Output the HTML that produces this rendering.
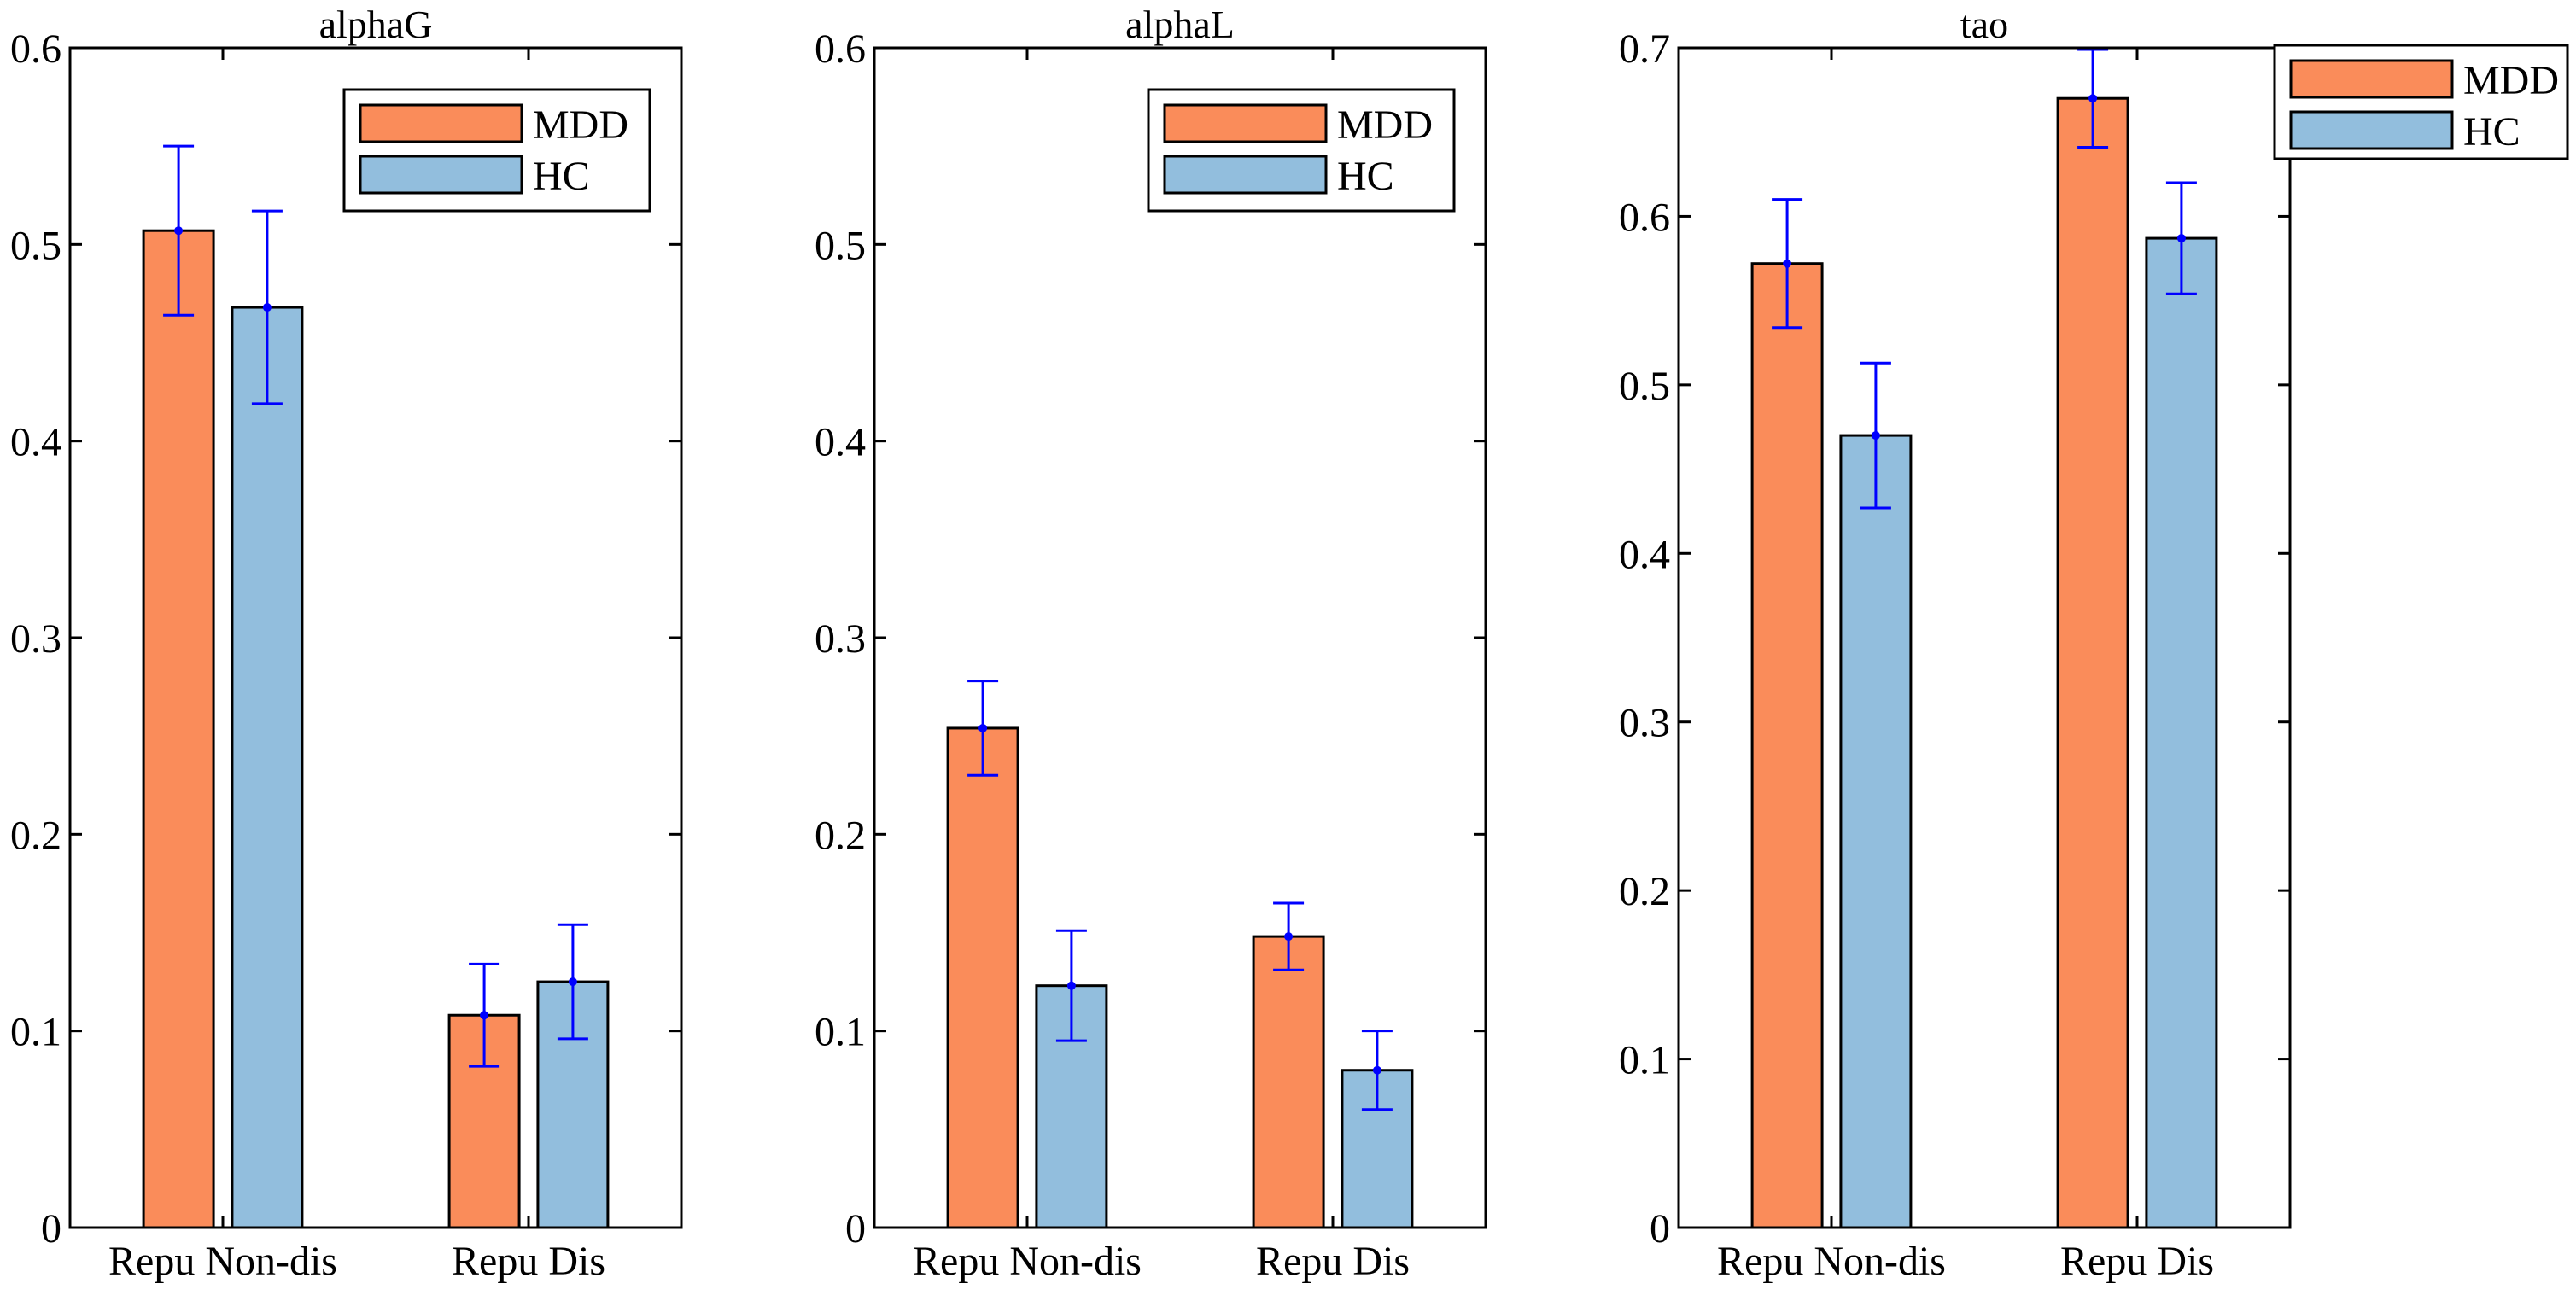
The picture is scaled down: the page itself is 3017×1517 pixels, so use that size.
<!DOCTYPE html>
<html><head><meta charset="utf-8"><style>
html,body{margin:0;padding:0;background:#fff}
svg{display:block}
text{font-family:"Liberation Serif",serif;fill:#000}
</style></head><body>
<svg id="fig" width="3017" height="1517" viewBox="0 0 3017 1517" xmlns="http://www.w3.org/2000/svg"></svg>
<script>
const categories = ["Repu Non-dis", "Repu Dis"];
const panelTitles = ["alphaG", "alphaL", "tao"];
const yMaxes = [0.6, 0.6, 0.7];
const mddValues = [[0.507, 0.108], [0.254, 0.148], [0.572, 0.670]];
const mddErr = [[0.043, 0.026], [0.024, 0.017], [0.038, 0.029]];
const hcValues = [[0.468, 0.125], [0.123, 0.080], [0.470, 0.587]];
const hcErr = [[0.049, 0.029], [0.028, 0.020], [0.043, 0.033]];
const yTicks = [[0,0.1,0.2,0.3,0.4,0.5,0.6],[0,0.1,0.2,0.3,0.4,0.5,0.6],[0,0.1,0.2,0.3,0.4,0.5,0.6,0.7]];
const yTickLabels = [["0","0.1","0.2","0.3","0.4","0.5","0.6"],["0","0.1","0.2","0.3","0.4","0.5","0.6"],["0","0.1","0.2","0.3","0.4","0.5","0.6","0.7"]];
const seriesNames = ["MDD", "HC"];

const NS = "http://www.w3.org/2000/svg";
const svg = document.getElementById("fig");
const ORANGE = "#fa8c5a", BLUE = "#92bedd";
const panelsL = [82, 1024, 1966], panelW = 716, TOP = 56, BOT = 1438;
function mk(tag, attrs, parent) {
  const e = document.createElementNS(NS, tag);
  for (const k in attrs) e.setAttribute(k, attrs[k]);
  (parent || svg).appendChild(e);
  return e;
}
for (let p = 0; p < 3; p++) {
  const L = panelsL[p], R = L + panelW;
  const g = mk("g", {});
  
  
  const xs = v => L + (v - 0.5) / 2 * panelW;
  const ys = v => BOT - v / yMaxes[p] * (BOT - TOP);
  const bw = 0.229, off = 0.145;
  for (let c = 0; c < categories.length; c++) {
    [[mddValues, mddErr, ORANGE, -off, 'mdd'], [hcValues, hcErr, BLUE, off, 'hc']].forEach(s => {
      const v = s[0][p][c], e = s[1][p][c];
      const cx = xs(c + 1 + s[3]);
      const r = mk("rect", {x: cx - bw/2*panelW/2, y: ys(v), width: bw*panelW/2, height: BOT - ys(v), fill: s[2], stroke: "#000", "stroke-width": 3}, g);
      
      
      const eb = mk("g", {stroke: "#0000ff", "stroke-width": 3}, g);
      
      
      mk("line", {x1: cx, x2: cx, y1: ys(v - e), y2: ys(v + e)}, eb);
      mk("line", {x1: cx - 18, x2: cx + 18, y1: ys(v - e), y2: ys(v - e)}, eb);
      mk("line", {x1: cx - 18, x2: cx + 18, y1: ys(v + e), y2: ys(v + e)}, eb);
      mk("circle", {cx: cx, cy: ys(v), r: 5, fill: "#0000ff", stroke: "none"}, eb);
    });
  }
  const ax = mk("rect", {x: L, y: TOP, width: panelW, height: BOT - TOP, fill: "none", stroke: "#000", "stroke-width": 3}, g);
  
  
  for (let i = 0; i < yTicks[p].length; i++) {
    const y = ys(yTicks[p][i]);
    mk("line", {x1: L, x2: L + 14, y1: y, y2: y, stroke: "#000", "stroke-width": 3}, g);
    mk("line", {x1: R - 14, x2: R, y1: y, y2: y, stroke: "#000", "stroke-width": 3}, g);
    const t = mk("text", {x: L - 10, y: y + 17, "text-anchor": "end", "font-size": 48}, g);
    t.textContent = yTickLabels[p][i];
    
    
  }
  for (let c = 0; c < categories.length; c++) {
    const x = xs(c + 1);
    mk("line", {x1: x, x2: x, y1: BOT, y2: BOT - 14, stroke: "#000", "stroke-width": 3}, g);
    mk("line", {x1: x, x2: x, y1: TOP, y2: TOP + 14, stroke: "#000", "stroke-width": 3}, g);
    const t = mk("text", {x: x, y: 1493, "text-anchor": "middle", "font-size": 48}, g);
    t.textContent = categories[c];
    
    
  }
  const tt = mk("text", {x: L + panelW/2, y: 44, "text-anchor": "middle", "font-size": 46}, g);
  tt.textContent = panelTitles[p];
  
  
  // legend
  const lx = p < 2 ? L + 321 : 2664, ly = p < 2 ? 105 : 53;
  const lw = p < 2 ? 358 : 343, lh = p < 2 ? 142 : 133;
  const lg = mk("g", {}, g);
  
  
  mk("rect", {x: lx, y: ly, width: lw, height: lh, fill: "#fff", stroke: "#000", "stroke-width": 3}, lg);
  [ORANGE, BLUE].forEach((col, i) => {
    const sy = ly + 18 + i * 60;
    mk("rect", {x: lx + 19, y: sy, width: 189, height: 43, fill: col, stroke: "#000", "stroke-width": 3}, lg);
    const t = mk("text", {x: lx + 221, y: sy + 39, "font-size": 48}, lg);
    t.textContent = seriesNames[i];
    
    
  });
}
</script>
</body></html>
